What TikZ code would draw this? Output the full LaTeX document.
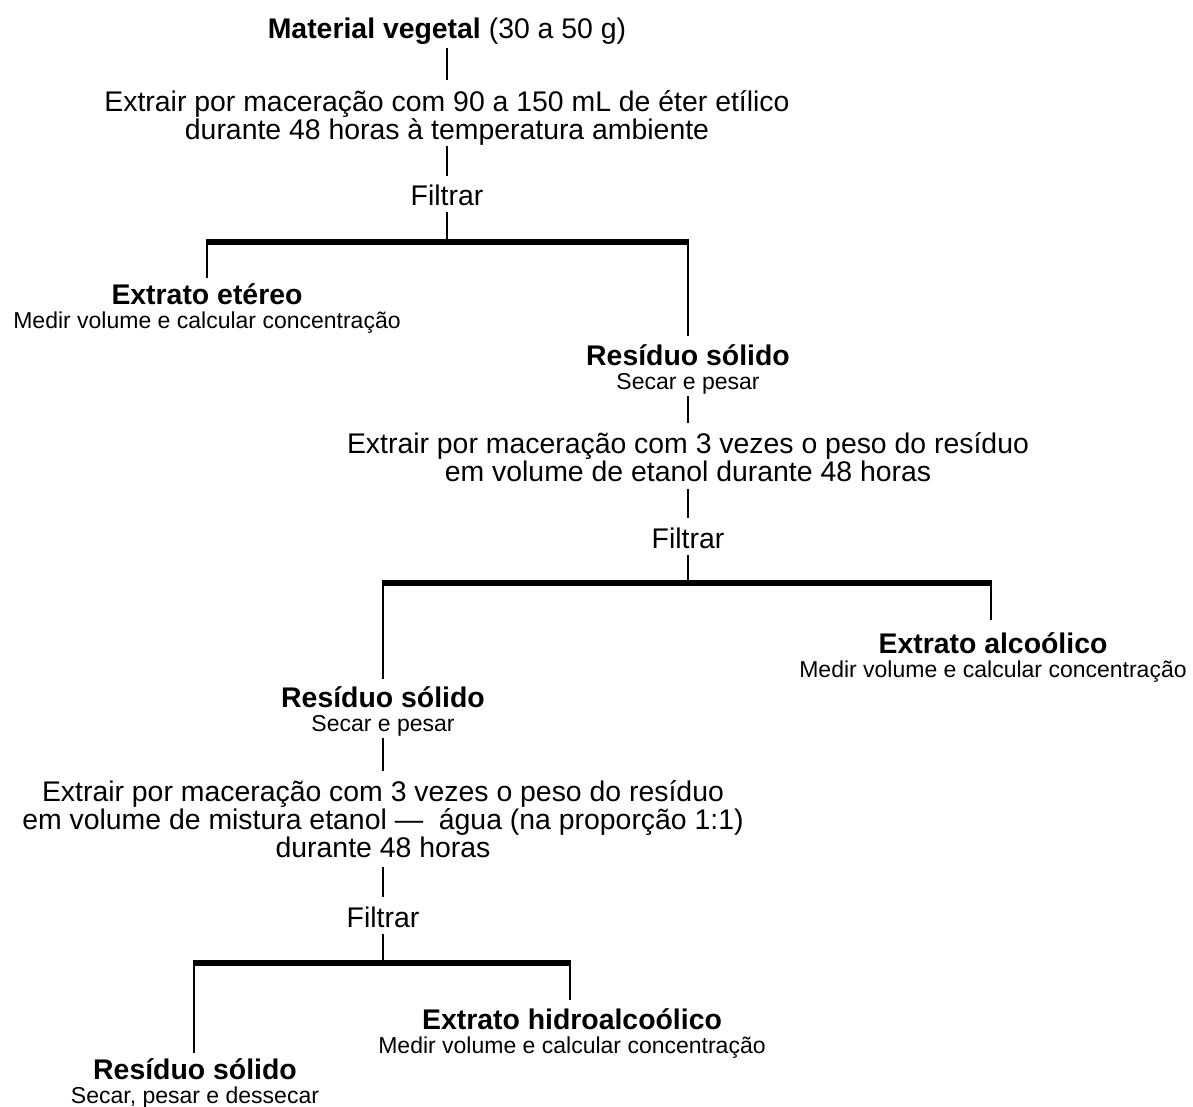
\documentclass[tikz,border=0pt]{standalone}
\usepackage{fontspec}
\setmainfont{Liberation Sans}
\newcommand{\smtxt}{\fontsize{23}{24}\selectfont}
\newcommand{\topstrut}{\rule{0pt}{22pt}}
\tikzset{
  txt/.style={inner sep=0pt, outer sep=0pt, align=center, anchor=north,
    font=\fontsize{28.4}{28}\selectfont},
  conn/.style={line width=2.3pt, line cap=butt},
  barline/.style={line width=5.5pt, line cap=butt},
}
\begin{document}
\lineskiplimit=-20pt
\begin{tikzpicture}[x=1pt,y=-1pt]
\useasboundingbox (0,0) rectangle (1193,1106);
% nodes
\node[txt] (title) at (447,16) {\topstrut\textbf{Material vegetal} (30 a 50 g)};
\node[txt] (ext1) at (447,89) {\topstrut Extrair por maceração com 90 a 150 mL de éter etílico\\durante 48 horas à temperatura ambiente};
\node[txt] (fil1) at (447,183) {\topstrut Filtrar};
\node[txt] (ete) at (207,282) {\topstrut\textbf{Extrato etéreo}\\[-4pt]\smtxt Medir volume e calcular concentração};
\node[txt] (res1) at (688,343) {\topstrut\textbf{Resíduo sólido}\\[-4pt]\smtxt Secar e pesar};
\node[txt] (ext2) at (688,431) {\topstrut Extrair por maceração com 3 vezes o peso do resíduo\\em volume de etanol durante 48 horas};
\node[txt] (fil2) at (688,526) {\topstrut Filtrar};
\node[txt] (alc) at (993,631) {\topstrut\textbf{Extrato alcoólico}\\[-4pt]\smtxt Medir volume e calcular concentração};
\node[txt] (res2) at (383,685) {\topstrut\textbf{Resíduo sólido}\\[-4pt]\smtxt Secar e pesar};
\node[txt] (ext3) at (383,779) {\topstrut Extrair por maceração com 3 vezes o peso do resíduo\\em volume de mistura etanol — \ água (na proporção 1:1)\\durante 48 horas};
\node[txt] (fil3) at (383,905) {\topstrut Filtrar};
\node[txt] (hid) at (572,1007) {\topstrut\textbf{Extrato hidroalcoólico}\\[-4pt]\smtxt Medir volume e calcular concentração};
\node[txt] (res3) at (195,1057) {\topstrut\textbf{Resíduo sólido}\\[-4pt]\smtxt Secar, pesar e dessecar};
% bar coordinates
\coordinate (b1l) at (205.85,242); \coordinate (b1r) at (689.15,242);
\coordinate (b2l) at (381.85,583); \coordinate (b2r) at (992.15,583);
\coordinate (b3l) at (192.85,963); \coordinate (b3r) at (571.15,963);
% first stage
\draw[conn] (title.south |- 0,48) -- (ext1.north |- 0,80);
\draw[conn] (ext1.south |- 0,146) -- (fil1.north |- 0,176);
\draw[conn] (fil1.south |- 0,212) -- (fil1.south |- b1l);
\draw[barline] (b1l) -- (b1r);
\draw[conn] (207,242) -- (ete.north |- 0,278);
\draw[conn] (res1.north |- b1r) -- (res1.north |- 0,336);
% second stage
\draw[conn] (res1.south |- 0,396) -- (ext2.north |- 0,423);
\draw[conn] (ext2.south |- 0,489) -- (fil2.north |- 0,518);
\draw[conn] (fil2.south |- 0,555) -- (fil2.south |- b2l);
\draw[barline] (b2l) -- (b2r);
\draw[conn] (res2.north |- b2l) -- (res2.north |- 0,679);
\draw[conn] (991,583) -- (991,620) coordinate (alcend);
% third stage
\draw[conn] (res2.south |- 0,738) -- (ext3.north |- 0,771);
\draw[conn] (ext3.south |- 0,867) -- (fil3.north |- 0,897);
\draw[conn] (fil3.south |- 0,934) -- (fil3.south |- b3l);
\draw[barline] (b3l) -- (b3r);
\draw[conn] (194,963) -- (194,1053) coordinate (res3end);
\draw[conn] (570,963) -- (570,1000) coordinate (hidend);
\end{tikzpicture}
\end{document}
